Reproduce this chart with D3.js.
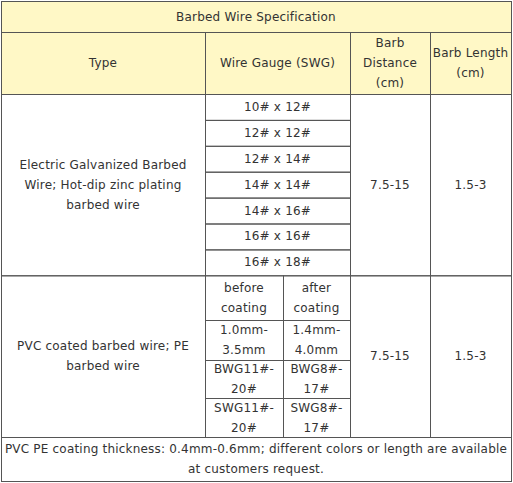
<!DOCTYPE html>
<html><head><meta charset="utf-8">
<script src="https://cdn.jsdelivr.net/npm/d3@7"></script>
<style>body{margin:0;background:#fff}</style>
</head><body><svg id="c" width="513" height="483"></svg>
<script>
const title = "Barbed Wire Specification";
const headers = ["Type", "Wire Gauge (SWG)", "Barb\nDistance\n(cm)", "Barb Length\n(cm)"];
const galvType = "Electric Galvanized Barbed\nWire; Hot-dip zinc plating\nbarbed wire";
const gauges = ["10# x 12#","12# x 12#","12# x 14#","14# x 14#","14# x 16#","16# x 16#","16# x 18#"];
const pvcType = "PVC coated barbed wire; PE\nbarbed wire";
const pvcBefore = ["before\ncoating","1.0mm-\n3.5mm","BWG11#-\n20#","SWG11#-\n20#"];
const pvcAfter = ["after\ncoating","1.4mm-\n4.0mm","BWG8#-\n17#","SWG8#-\n17#"];
const barbDistance = "7.5-15";
const barbLength = "1.5-3";
const footer = "PVC PE coating thickness: 0.4mm-0.6mm; different colors or length are available\nat customers request.";

const svg = d3.select("#c");
const X = [1,205,350,430,511], XM = 283;
const Y0=1, YT=32, YH=94, rowH=25.9;
const gaugeY = d3.range(gauges.length+1).map(i=>YH+i*rowH);
const YP = gaugeY[gauges.length];
const pvcY = [YP,320,360,398,437];
const YE = 481;
const line = "#555";
function rect(x0,y0,x1,y1,fill){svg.append("rect").attr("x",x0+.5).attr("y",y0+.5).attr("width",x1-x0).attr("height",y1-y0).attr("fill",fill||"none").attr("stroke",line).attr("stroke-width",1);}
function txt(s,cx,cy){const ls=s.split("\n");const lh=20;
 const t=svg.append("text").attr("text-anchor","middle").attr("font-family","DejaVu Sans, Verdana, sans-serif").attr("font-size","12px").attr("letter-spacing","0.2px").attr("fill","#333");
 ls.forEach((l,i)=>t.append("tspan").attr("x",cx).attr("y",cy+(i-(ls.length-1)/2)*lh+4).text(l));}
const hdr="#FFF8C6";
rect(X[0],Y0,X[4],YT,hdr); txt(title,(X[0]+X[4])/2,(Y0+YT)/2);
headers.forEach((h,i)=>{rect(X[i],YT,X[i+1],YH,hdr);txt(h,(X[i]+X[i+1])/2,(YT+YH)/2);});
rect(X[0],YH,X[1],YP); txt(galvType,(X[0]+X[1])/2,(YH+YP)/2);
gauges.forEach((g,i)=>{rect(X[1],gaugeY[i],X[2],gaugeY[i+1]);txt(g,(X[1]+X[2])/2,(gaugeY[i]+gaugeY[i+1])/2);});
rect(X[2],YH,X[3],YP); txt(barbDistance,(X[2]+X[3])/2,(YH+YP)/2);
rect(X[3],YH,X[4],YP); txt(barbLength,(X[3]+X[4])/2,(YH+YP)/2);
rect(X[0],YP,X[1],pvcY[4]); txt(pvcType,(X[0]+X[1])/2,(YP+pvcY[4])/2);
pvcBefore.forEach((s,i)=>{rect(X[1],pvcY[i],XM,pvcY[i+1]);txt(s,(X[1]+XM)/2,(pvcY[i]+pvcY[i+1])/2);});
pvcAfter.forEach((s,i)=>{rect(XM,pvcY[i],X[2],pvcY[i+1]);txt(s,(XM+X[2])/2,(pvcY[i]+pvcY[i+1])/2);});
rect(X[2],YP,X[3],pvcY[4]); txt(barbDistance,(X[2]+X[3])/2,(YP+pvcY[4])/2);
rect(X[3],YP,X[4],pvcY[4]); txt(barbLength,(X[3]+X[4])/2,(YP+pvcY[4])/2);
rect(X[0],pvcY[4],X[4],YE); txt(footer,(X[0]+X[4])/2,(pvcY[4]+YE)/2);
</script></body></html>
